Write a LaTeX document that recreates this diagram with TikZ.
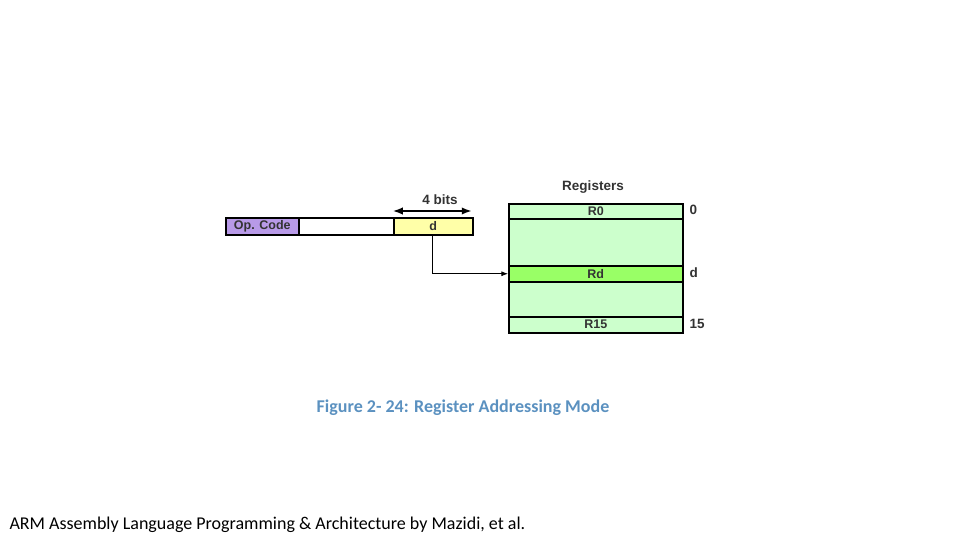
\documentclass[tikz,border=0pt]{standalone}
\usepackage{fontspec}
\setmainfont{Carlito}
\newfontfamily\arial{Liberation Sans}
\usetikzlibrary{arrows.meta,positioning}
\definecolor{opc}{HTML}{B89AE8}
\definecolor{dfield}{HTML}{FFFFA8}
\definecolor{regl}{HTML}{CCFFCC}
\definecolor{regd}{HTML}{99FF66}
\definecolor{capblue}{HTML}{5B91C0}
\tikzset{>=Latex}
\tikzstyle{field} = [draw, line width=1.5pt, rectangle, inner sep=0pt, anchor=north west, font=\arial\bfseries\fontsize{12.5}{13}\selectfont, text=black!80]
\tikzstyle{reg} = [field, fill=regl, minimum width=174pt]
\tikzstyle{lbl} = [font=\arial\bfseries\fontsize{13.5}{14}\selectfont, text=black!80]

\begin{document}
\begin{tikzpicture}[x=1pt,y=-1pt]
\useasboundingbox (0,0) rectangle (960,540);

% Instruction word
\node[field, fill=opc, minimum width=73pt, minimum height=17pt](op) at (225,217){Op. Code};
\node[field, fill=white, minimum width=95pt, minimum height=17pt](mid) at (298,217){};
\node[field, fill=dfield, minimum width=79pt, minimum height=17pt](dd) at (393,217){d};
\draw[<->, line width=1.5pt]([yshift=6pt]dd.north west)--([yshift=6pt,xshift=-2pt]dd.north east);
\node[lbl](bits) at (440,200){4 bits};

% Register file
\node[reg, minimum height=15pt](r0) at (508,203){R0};
\node[reg, minimum height=47pt](g1) at (508,218){};
\node[reg, fill=regd, minimum height=16pt](rd) at (508,265){Rd};
\node[reg, minimum height=35pt](g2) at (508,281){};
\node[reg, minimum height=16pt](r15) at (508,316){R15};
\node[lbl](regs) at (593,187){Registers};
\node[lbl, anchor=west](i0) at (686,210){0};
\node[lbl, anchor=west](id) at (686,273){d};
\node[lbl, anchor=west](i15) at (686,324){15};

% Connector
\coordinate (tap) at (432,234);
\draw[->, line width=0.8pt](tap)|-(rd.west);

% Captions
\node[text=capblue, font=\bfseries\fontsize{18}{20}\selectfont](cap) at (463,408){Figure 2- 24: Register Addressing Mode};
\node[anchor=west, font=\fontsize{18}{20}\selectfont](src) at (6,525){ARM Assembly Language Programming \& Architecture by Mazidi, et al.};
\end{tikzpicture}
\end{document}
